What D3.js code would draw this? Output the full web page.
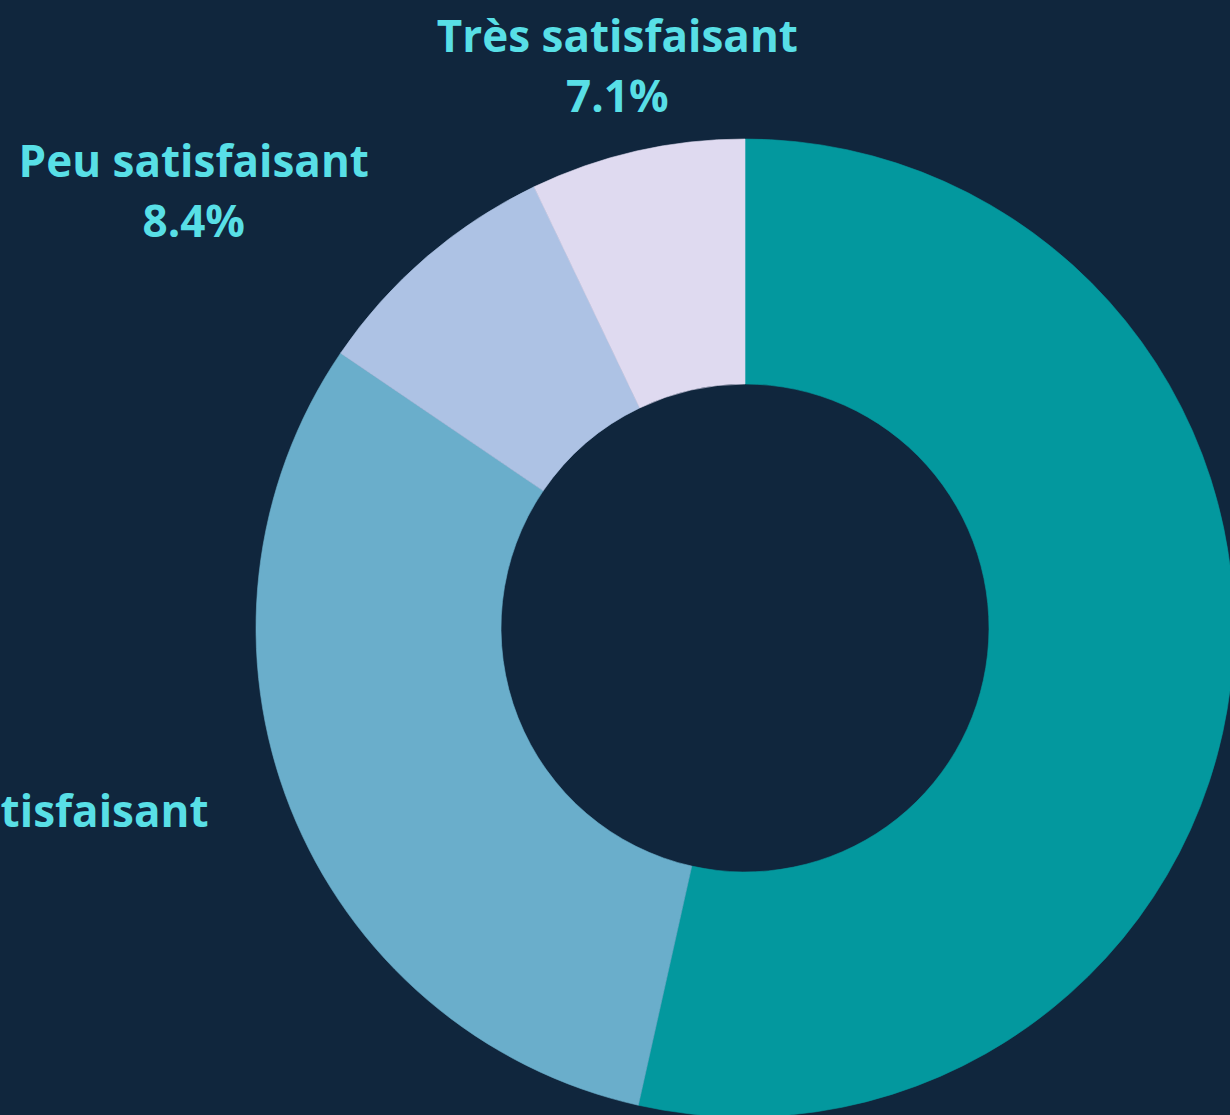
<!DOCTYPE html>
<html>
<head>
<meta charset="utf-8">
<script src="https://cdn.jsdelivr.net/npm/d3@7"></script>
<style>
  html,body{margin:0;padding:0;background:#10263d;overflow:hidden;}
  svg{display:block;}
</style>
</head>
<body>
<svg id="chart"></svg>
<script>
// data
var categories = ["Assez satisfaisant", "Satisfaisant", "Peu satisfaisant", "Très satisfaisant"];
var values = [53.5, 31.0, 8.4, 7.1];
var colors = ["#03989e", "#6aaecb", "#adc2e4", "#dfdaf0"];
var hidePct = ["Satisfaisant"];

var W = 1230, H = 1115;
var cx = 745, cy = 628;
var outerR = 489, innerR = 244, labelR = 577;

var svg = d3.select("#chart").attr("width", W).attr("height", H);

var data = categories.map(function(c, i){ return {name: c, value: values[i], color: colors[i]}; });

var pie = d3.pie().value(function(d){ return d.value; }); // default sort: descending
var arc = d3.arc().innerRadius(innerR).outerRadius(outerR);

var g = svg.append("g").attr("transform", "translate(" + cx + "," + cy + ")");

var arcs = pie(data);

g.selectAll("path")
  .data(arcs)
  .enter()
  .append("path")
  .attr("d", arc)
  .attr("fill", function(d){ return d.data.color; })
  .attr("stroke", function(d){ return d.data.color; })
  .attr("stroke-width", 0.6);

// labels outside
g.selectAll("text.lbl")
  .data(arcs)
  .enter()
  .append("text")
  .attr("class", "lbl")
  .attr("font-family", "'Open Sans', 'Noto Sans', sans-serif")
  .attr("font-weight", 700)
  .attr("font-size", 44)
  .attr("fill", "#58dfe6")
  .each(function(d){
    var a = (d.startAngle + d.endAngle) / 2;
    var s = Math.sin(a), c = Math.cos(a);
    var x = labelR * s, y = -labelR * c;
    var anchor = Math.abs(s) < 0.4 ? "middle" : (s < 0 ? "end" : "start");
    var t = d3.select(this).attr("text-anchor", "middle");
    var t1 = t.append("tspan").text(d.data.name);
    var w = this.getBBox().width;
    var bx = x;
    if (anchor === "end") bx = x - w / 2;
    if (anchor === "start") bx = x + w / 2;
    t1.attr("x", bx).attr("y", y - 13);
    if (hidePct.indexOf(d.data.name) < 0) {
      t.append("tspan").attr("x", bx).attr("y", y + 47).text(d3.format(".1f")(d.data.value) + "%");
    }
  });
</script>
</body>
</html>
